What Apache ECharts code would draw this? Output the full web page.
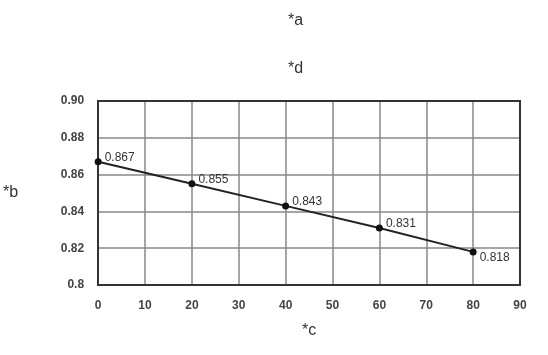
<!DOCTYPE html>
<html><head><meta charset="utf-8">
<script src="https://cdn.jsdelivr.net/npm/echarts@6/dist/echarts.min.js"></script>
<style>html,body{margin:0;padding:0;background:#fff}#c{width:548px;height:355px}</style>
</head><body><div id="c"></div>
<script>
var xValues = [0, 20, 40, 60, 80];
var yValues = [0.867, 0.855, 0.843, 0.831, 0.818];
var titleText = '*a';
var subtitleText = '*d';
var xName = '*c';
var yName = '*b';

var data = xValues.map(function (x, i) {
  var item = { value: [x, yValues[i]] };
  if (i === xValues.length - 1) item.label = { offset: [0, 6] };
  return item;
});
var chart = echarts.init(document.getElementById('c'));
chart.setOption({
  animation: false,
  backgroundColor: '#fff',
  title: [
    { text: titleText, left: 283, top: 8, textStyle: { fontSize: 16, fontWeight: 'normal', color: '#333', fontFamily: 'Arial' } },
    { text: subtitleText, left: 283, top: 56, textStyle: { fontSize: 16, fontWeight: 'normal', color: '#333', fontFamily: 'Arial' } }
  ],
  grid: { left: 98, right: 28, top: 101, bottom: 70 },
  xAxis: {
    type: 'value', min: 0, max: 90, interval: 10,
    name: xName, nameLocation: 'middle', nameGap: 38,
    nameTextStyle: { fontSize: 16, color: '#333', fontFamily: 'Arial' },
    axisLine: { show: true, lineStyle: { color: '#333', width: 2 } },
    axisTick: { show: false },
    axisLabel: { margin: 15, fontSize: 12, fontWeight: 'bold', color: '#444', fontFamily: 'Arial' },
    splitLine: { show: true, lineStyle: { color: '#888', width: 1.5 } }
  },
  yAxis: {
    type: 'value', min: 0.8, max: 0.9, interval: 0.02,
    name: yName, nameLocation: 'middle', nameRotate: 0, nameGap: 80,
    nameTextStyle: { fontSize: 16, color: '#333', fontFamily: 'Arial' },
    axisLine: { show: true, lineStyle: { color: '#333', width: 2 } },
    axisTick: { show: false },
    axisLabel: { margin: 14, fontSize: 12, fontWeight: 'bold', color: '#444', fontFamily: 'Arial',
      formatter: function (v) { return Math.abs(v - 0.8) < 1e-9 ? '0.8' : v.toFixed(2); } },
    splitLine: { show: true, lineStyle: { color: '#888', width: 1.5 } }
  },
  graphic: [{
    type: 'rect', shape: { x: 98, y: 101, width: 422, height: 184 },
    style: { fill: 'none', stroke: '#333', lineWidth: 2 }, silent: true, z: 10
  }],
  series: [{
    type: 'line', data: data,
    symbol: 'circle', symbolSize: 7,
    lineStyle: { color: '#222', width: 2 },
    itemStyle: { color: '#111' },
    z: 20,
    label: {
      show: true, position: 'right', distance: 3, offset: [0, -4],
      fontSize: 12, color: '#333', fontFamily: 'Arial',
      formatter: function (p) { return p.value[1].toFixed(3); }
    }
  }]
});
</script></body></html>
